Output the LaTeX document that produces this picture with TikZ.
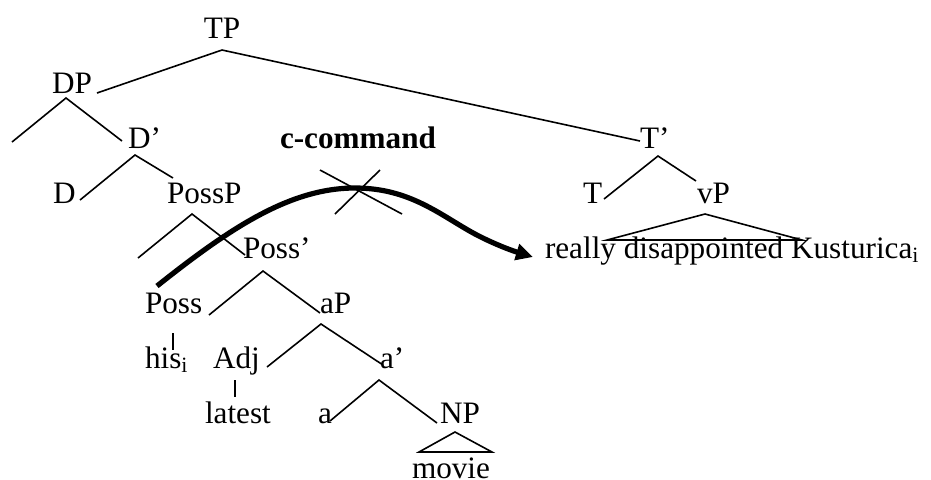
\documentclass[tikz,border=0pt]{standalone}
\usepackage{fontspec}
\setmainfont{Liberation Serif}
\usetikzlibrary{arrows.meta}
\begin{document}
\begin{tikzpicture}[x=0.5pt,y=-0.5pt,
  lab/.style={inner sep=0pt,outer sep=0pt,font=\fontsize{15.6}{18}\selectfont},
  branch/.style={line width=0.8pt},
  ccarrow/.style={line width=2.6pt,-{Triangle[length=8.5pt,width=8pt]}},
  cross/.style={line width=0.8pt}]
\path[use as bounding box,fill=white] (0,0) rectangle (931,479);
% labels
\node[lab,anchor=base] (TP) at (222,38) {TP};
\node[lab,anchor=base] (DP) at (72,93) {DP};
\node[lab,anchor=base west] (Dbar) at (128,148) {D’};
\node[lab,anchor=base west] (D) at (53,203) {D};
\node[lab,anchor=base west] (PossP) at (167,203) {PossP};
\node[lab,anchor=base west] (Possbar) at (243,258) {Poss’};
\node[lab,anchor=base west] (Poss) at (145,313) {Poss};
\node[lab,anchor=base west] (aP) at (320,313) {aP};
\node[lab,anchor=base west] (his) at (145,368) {his\textsubscript{i}};
\node[lab,anchor=base west] (Adj) at (213,368) {Adj};
\node[lab,anchor=base west] (abar) at (380,368) {a’};
\node[lab,anchor=base west] (latest) at (205,423) {latest};
\node[lab,anchor=base west] (a) at (318,423) {a};
\node[lab,anchor=base west] (NP) at (440,423) {NP};
\node[lab,anchor=base] (movie) at (451,478) {movie};
\node[lab,anchor=base west] (Tbar) at (640,148) {T’};
\node[lab,anchor=base west] (T) at (583,203) {T};
\node[lab,anchor=base west] (vP) at (697,203) {vP};
\node[lab,anchor=base west] (rdk) at (545,258) {really disappointed Kusturica\textsubscript{i}};
\node[lab,anchor=base west,font=\fontsize{15.6}{18}\selectfont\bfseries] (cc) at (280,148) {c-command};
% branches
\draw[branch] (97,93) -- (222,50) -- (640,141);
\draw[branch] (12,142) -- (66,98) -- (122,141);
\draw[branch] (80,200) -- (135,155) -- (173,178);
\draw[branch] (138,258) -- (192,214) -- (245,255);
\draw[branch] (209,315) -- (263,271) -- (320,313);
\draw[branch] (267,367) -- (321,324) -- (383,365);
\draw[branch] (330,421) -- (379,380) -- (437,423);
\draw[branch] (173,333) -- (173,350);
\draw[branch] (235,380) -- (235,397);
\draw[branch] (604,199) -- (658,156) -- (696,181);
\draw[branch] (419,452) -- (455,432) -- (492,452) -- cycle;
\draw[branch] (607,240) -- (705,214) -- (802,240) -- cycle;
% c-command arrow
\coordinate (ccstart) at (157,286);
\coordinate (cctip) at (533,257);
\draw[ccarrow] (ccstart) .. controls (230,228) and (290,188) .. (355,188)
  .. controls (410,188) and (440,215) .. (475,234) .. controls (492,243) and (510,250) .. (cctip);
\draw[cross] (320,170) -- (402,214);
\draw[cross] (380,170) -- (335,214);
\end{tikzpicture}
\end{document}
